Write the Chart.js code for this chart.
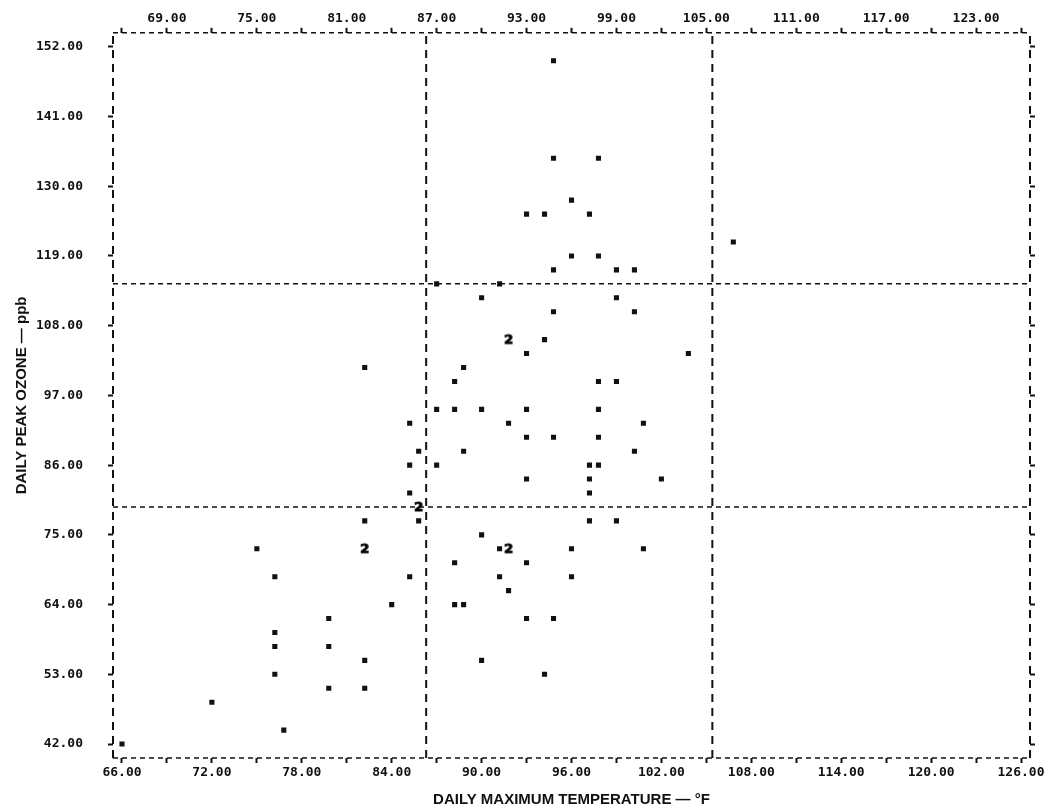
<!DOCTYPE html>
<html lang="en">
<head>
    <meta charset="UTF-8">
    <title>Daily peak ozone vs daily maximum temperature</title>
    <script src="https://cdn.jsdelivr.net/npm/chart.js"></script>
    <style>
        body {
            margin: 0;
            background-color: white;
        }
        .chart-container {
            position: relative;
            width: 1058px;
            height: 809px;
        }
    </style>
</head>
<body>
    <div class="chart-container">
        <canvas id="ozoneChart"></canvas>
    </div>

    <script>
        // single observations (°F, ppb)
        const tempF = [66.0, 72.0, 75.0, 76.2, 76.2, 76.2, 76.2, 76.8, 79.8, 79.8, 79.8,
            82.2, 82.2, 82.2, 82.2, 84.0,
            85.2, 85.2, 85.2, 85.2, 85.8, 85.8,
            87.0, 87.0, 87.0, 88.2, 88.2, 88.2, 88.2, 88.8, 88.8, 88.8,
            90.0, 90.0, 90.0, 90.0, 91.2, 91.2, 91.2, 91.8, 91.8,
            93.0, 93.0, 93.0, 93.0, 93.0, 93.0, 93.0, 94.2, 94.2, 94.2,
            94.8, 94.8, 94.8, 94.8, 94.8, 94.8, 96.0, 96.0, 96.0, 96.0,
            97.2, 97.2, 97.2, 97.2, 97.2, 97.8, 97.8, 97.8, 97.8, 97.8, 97.8,
            99.0, 99.0, 99.0, 99.0, 100.2, 100.2, 100.2, 100.8, 100.8,
            102.0, 103.8, 106.8];
        const ozonePpb = [42.0, 48.6, 72.8, 68.4, 59.6, 57.4, 53.0, 44.2, 61.8, 57.4, 50.8,
            101.4, 77.2, 55.2, 50.8, 64.0,
            92.6, 86.0, 81.6, 68.4, 88.2, 77.2,
            114.6, 94.8, 86.0, 99.2, 94.8, 70.6, 64.0, 101.4, 88.2, 64.0,
            112.4, 94.8, 75.0, 55.2, 114.6, 72.8, 68.4, 92.6, 66.2,
            125.6, 103.6, 94.8, 90.4, 83.8, 70.6, 61.8, 125.6, 105.8, 53.0,
            149.8, 134.4, 116.8, 110.2, 90.4, 61.8, 127.8, 119.0, 72.8, 68.4,
            125.6, 86.0, 83.8, 81.6, 77.2, 134.4, 119.0, 99.2, 94.8, 90.4, 86.0,
            116.8, 112.4, 99.2, 77.2, 116.8, 110.2, 88.2, 92.6, 72.8,
            83.8, 103.6, 121.2];

        // two observations on the same print position
        const tempDouble = [82.2, 85.8, 91.8, 91.8];
        const ozoneDouble = [72.8, 79.4, 105.8, 72.8];

        // dashed partition lines
        const tempCuts = [86.3, 105.4];
        const ozoneCuts = [79.4, 114.6];

        // axes
        const xTicks = [66, 69, 72, 75, 78, 81, 84, 87, 90, 93, 96, 99, 102, 105, 108, 111, 114, 117, 120, 123, 126];
        const bottomLabels = ['66.00', '72.00', '78.00', '84.00', '90.00', '96.00', '102.00', '108.00', '114.00', '120.00', '126.00'];
        const topLabels = ['69.00', '75.00', '81.00', '87.00', '93.00', '99.00', '105.00', '111.00', '117.00', '123.00'];
        const yTicks = [42, 53, 64, 75, 86, 97, 108, 119, 130, 141, 152];
        const yLabels = ['42.00', '53.00', '64.00', '75.00', '86.00', '97.00', '108.00', '119.00', '130.00', '141.00', '152.00'];
        const xMin = 65.4, xMax = 126.6, yMin = 39.8, yMax = 154.2;

        const ink = '#111';
        const tickFont = { family: "'DejaVu Sans Mono', monospace", size: 13, weight: 'bold' };
        const titleFont = { family: "'Liberation Sans', Arial, sans-serif", size: 15, weight: 'bold' };

        // "2" glyph used as point style for doubled points
        const twoGlyph = document.createElement('canvas');
        twoGlyph.width = 12;
        twoGlyph.height = 14;
        const g = twoGlyph.getContext('2d');
        g.fillStyle = '#000';
        g.strokeStyle = '#000';
        g.lineWidth = 0.9;
        g.font = "bold 13px 'DejaVu Sans'";
        g.textAlign = 'center';
        g.textBaseline = 'middle';
        g.fillText('2', 6, 7.5);
        g.strokeText('2', 6, 7.5);

        function labelFor(list, value) {
            const s = value.toFixed(2);
            return list.includes(s) ? s : '';
        }

        function setTicks(values) {
            return function(scale) {
                scale.ticks = values.map(v => ({ value: v }));
            };
        }

        function dashed(points, width, dash) {
            return {
                type: 'line',
                data: points,
                borderColor: ink,
                borderWidth: width,
                borderDash: dash,
                pointRadius: 0,
                clip: 4,
                order: 2
            };
        }

        // partition lines and the dashed frame
        const lineDatasets = [];
        tempCuts.concat([xMin, xMax]).forEach(t =>
            lineDatasets.push(dashed([{ x: t, y: yMin }, { x: t, y: yMax }], 2, [8, 6])));
        ozoneCuts.concat([yMin, yMax]).forEach(o =>
            lineDatasets.push(dashed([{ x: xMin, y: o }, { x: xMax, y: o }], 1.5, [5, 4])));

        const tickGrid = { drawOnChartArea: false, tickLength: 5, tickWidth: 2, color: ink };

        const ctx = document.getElementById('ozoneChart').getContext('2d');

        new Chart(ctx, {
            type: 'scatter',
            data: {
                datasets: [{
                    label: 'Days',
                    data: tempF.map((t, i) => ({ x: t, y: ozonePpb[i] })),
                    pointStyle: 'rect',
                    pointRadius: 3.6,
                    backgroundColor: ink,
                    borderWidth: 0,
                    order: 1
                }, {
                    label: 'Two days',
                    data: tempDouble.map((t, i) => ({ x: t, y: ozoneDouble[i] })),
                    pointStyle: twoGlyph,
                    order: 0
                }].concat(lineDatasets)
            },
            options: {
                responsive: true,
                maintainAspectRatio: false,
                animation: false,
                layout: { padding: 0 },
                plugins: {
                    legend: { display: false },
                    tooltip: { enabled: false }
                },
                scales: {
                    x: {
                        type: 'linear',
                        position: 'bottom',
                        min: xMin,
                        max: xMax,
                        afterBuildTicks: setTicks(xTicks),
                        afterFit: s => { s.height = 51; },
                        ticks: {
                            autoSkip: false,
                            maxRotation: 0,
                            padding: 2,
                            color: ink,
                            font: tickFont,
                            callback: v => labelFor(bottomLabels, v)
                        },
                        grid: tickGrid,
                        border: { display: false },
                        title: {
                            display: true,
                            text: 'DAILY MAXIMUM TEMPERATURE — °F',
                            color: ink,
                            font: titleFont,
                            padding: { top: 0, bottom: 0 }
                        }
                    },
                    x2: {
                        type: 'linear',
                        position: 'top',
                        min: xMin,
                        max: xMax,
                        afterBuildTicks: setTicks(xTicks),
                        afterFit: s => { s.height = 28; },
                        ticks: {
                            autoSkip: false,
                            maxRotation: 0,
                            padding: 1,
                            color: ink,
                            font: tickFont,
                            callback: v => labelFor(topLabels, v)
                        },
                        grid: tickGrid,
                        border: { display: false }
                    },
                    y: {
                        type: 'linear',
                        position: 'left',
                        min: yMin,
                        max: yMax,
                        afterBuildTicks: setTicks(yTicks),
                        afterFit: s => { s.width = 113; },
                        ticks: {
                            autoSkip: false,
                            padding: 25,
                            color: ink,
                            font: tickFont,
                            callback: v => labelFor(yLabels, v)
                        },
                        grid: tickGrid,
                        border: { display: false },
                        title: {
                            display: true,
                            text: 'DAILY PEAK OZONE — ppb',
                            color: ink,
                            font: titleFont,
                            padding: { top: 13, bottom: 0 }
                        }
                    },
                    y2: {
                        type: 'linear',
                        position: 'right',
                        min: yMin,
                        max: yMax,
                        afterBuildTicks: setTicks(yTicks),
                        afterFit: s => { s.width = 28; },
                        ticks: { display: false },
                        grid: tickGrid,
                        border: { display: false }
                    }
                }
            }
        });
    </script>
</body>
</html>
